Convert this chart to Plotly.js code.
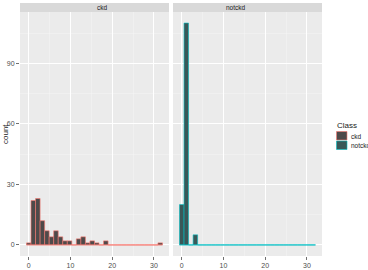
<!DOCTYPE html>
<html><head><meta charset="utf-8">
<script src="https://cdn.plot.ly/plotly-3.0.1.min.js"></script>
<style>html,body{margin:0;padding:0;background:#fff;}#chart{width:368px;height:270px;}</style>
</head><body><div id="chart"></div>
<script>
// Histogram of Serum Creatinine by Class (30 bins)
const binStart = 0;
const binWidth = 1.086;
const ckdCounts = [1,22,23,12,7,4,7,4,2,2,0,3,4,1,2,1,0,2,0,0,0,0,0,0,0,0,0,0,0,1];
const notckdCounts = [20,110,0,5,0,0,0,0,0,0,0,0,0,0,0,0,0,0,0,0,0,0,0,0,0,0,0,0,0,0];
const classes = ['ckd','notckd'];
const xTicks = [0,10,20,30];
const yTicks = [0,30,60,90];

const centers = ckdCounts.map((_, i) => binStart + i * binWidth);
const edgeLo = centers[0] - binWidth / 2, edgeHi = centers[centers.length - 1] + binWidth / 2;

const lineCols = {ckd:'#F8766D', notckd:'#00BFC4'};
const fillCols = {ckd:'#4e4a4a', notckd:'#395858'};
const FONT = 'Liberation Sans, Arial, sans-serif';

const traces = [];
[ckdCounts, notckdCounts].forEach((counts, k) => {
  const cls = classes[k];
  const xa = k === 0 ? 'x' : 'x2';
  traces.push({
    type:'scatter', mode:'lines', x:[edgeLo, edgeHi], y:[0,0], xaxis:xa, yaxis:'y',
    line:{color:lineCols[cls], width:0.6}, showlegend:false, hoverinfo:'skip'
  });
  traces.push({
    type:'bar', name:cls, x:centers, y:counts, width:binWidth, xaxis:xa, yaxis:'y',
    marker:{color:fillCols[cls], line:{color:lineCols[cls], width:0.6}},
    showlegend:false
  });
});

const axCommon = {
  showgrid:true, gridcolor:'#ffffff', gridwidth:1, zeroline:false, showline:false,
  ticks:'outside', ticklen:3, tickcolor:'#333333', tickwidth:0.7,
  tickfont:{family:FONT, size:7, color:'#4d4d4d'},
};
const xRange = [-2.1, 33.6];
const W = 368, H = 270;
const L = 20, R = 46, T = 12, B = 14;
const plotW = W - L - R, plotH = H - T - B;
const stripH = 9 / plotH;
const px = v => (v - L) / plotW;          // page x -> paper x
const py = v => (H - B - v) / plotH;       // page y -> paper y

// manual legend (keys and labels taken from the classes array)
const legShapes = [], legAnn = [];
legAnn.push({text:'Class', xref:'paper', yref:'paper', x:px(335), y:py(126), xanchor:'left', yanchor:'middle',
  showarrow:false, font:{family:FONT, size:8, color:'#1a1a1a'}});
classes.forEach((cls, i) => {
  const top = 131.5 + i * 9.5;
  legShapes.push({type:'rect', xref:'paper', yref:'paper', x0:px(336.5), x1:px(347), y0:py(top), y1:py(top + 8.5),
    fillcolor:fillCols[cls], line:{color:lineCols[cls], width:0.6}});
  legAnn.push({text:cls, xref:'paper', yref:'paper', x:px(349), y:py(top + 4.5), xanchor:'left', yanchor:'middle',
    showarrow:false, font:{family:FONT, size:6.5, color:'#1a1a1a'}});
});

const layout = {
  width:W, height:H,
  margin:{l:L, r:R, t:T, b:B, pad:0, autoexpand:false},
  paper_bgcolor:'#ffffff', plot_bgcolor:'#EBEBEB',
  barmode:'overlay', bargap:0,
  showlegend:false,
  xaxis:Object.assign({}, axCommon, {domain:[0, px(169)], range:xRange, tickvals:xTicks,
    minor:{dtick:5, tick0:0, showgrid:true, gridcolor:'#f5f5f5', gridwidth:0.5}}),
  xaxis2:Object.assign({}, axCommon, {domain:[px(173), 1], range:xRange, tickvals:xTicks, anchor:'y',
    minor:{dtick:5, tick0:0, showgrid:true, gridcolor:'#f5f5f5', gridwidth:0.5}}),
  yaxis:Object.assign({}, axCommon, {range:[-5.5, 115.5], tickvals:yTicks,
    minor:{dtick:15, tick0:0, showgrid:true, gridcolor:'#f5f5f5', gridwidth:0.5}}),
  shapes:[
    {type:'rect', xref:'paper', yref:'paper', x0:0, x1:px(169), y0:1, y1:1+stripH, fillcolor:'#D9D9D9', line:{width:0}},
    {type:'rect', xref:'paper', yref:'paper', x0:px(173), x1:1, y0:1, y1:1+stripH, fillcolor:'#D9D9D9', line:{width:0}}
  ].concat(legShapes),
  annotations:[
    {text:'ckd', xref:'paper', yref:'paper', x:px(169)/2, y:1+stripH/2, showarrow:false, yanchor:'middle',
     font:{family:FONT, size:6.5, color:'#1a1a1a'}},
    {text:'notckd', xref:'paper', yref:'paper', x:(px(173)+1)/2, y:1+stripH/2, showarrow:false, yanchor:'middle',
     font:{family:FONT, size:6.5, color:'#1a1a1a'}},
    {text:'count', xref:'paper', yref:'paper', x:0, y:0.5, xshift:-15, textangle:-90, showarrow:false,
     xanchor:'center', yanchor:'middle', font:{family:FONT, size:8, color:'#1a1a1a'}},
    {text:'Serum Creatinine', xref:'paper', yref:'paper', x:0.5, y:0, yshift:-10, showarrow:false,
     xanchor:'center', yanchor:'top', font:{family:FONT, size:8, color:'#1a1a1a'}}
  ].concat(legAnn)
};
Plotly.newPlot('chart', traces, layout, {staticPlot:true, displayModeBar:false});
</script></body></html>
